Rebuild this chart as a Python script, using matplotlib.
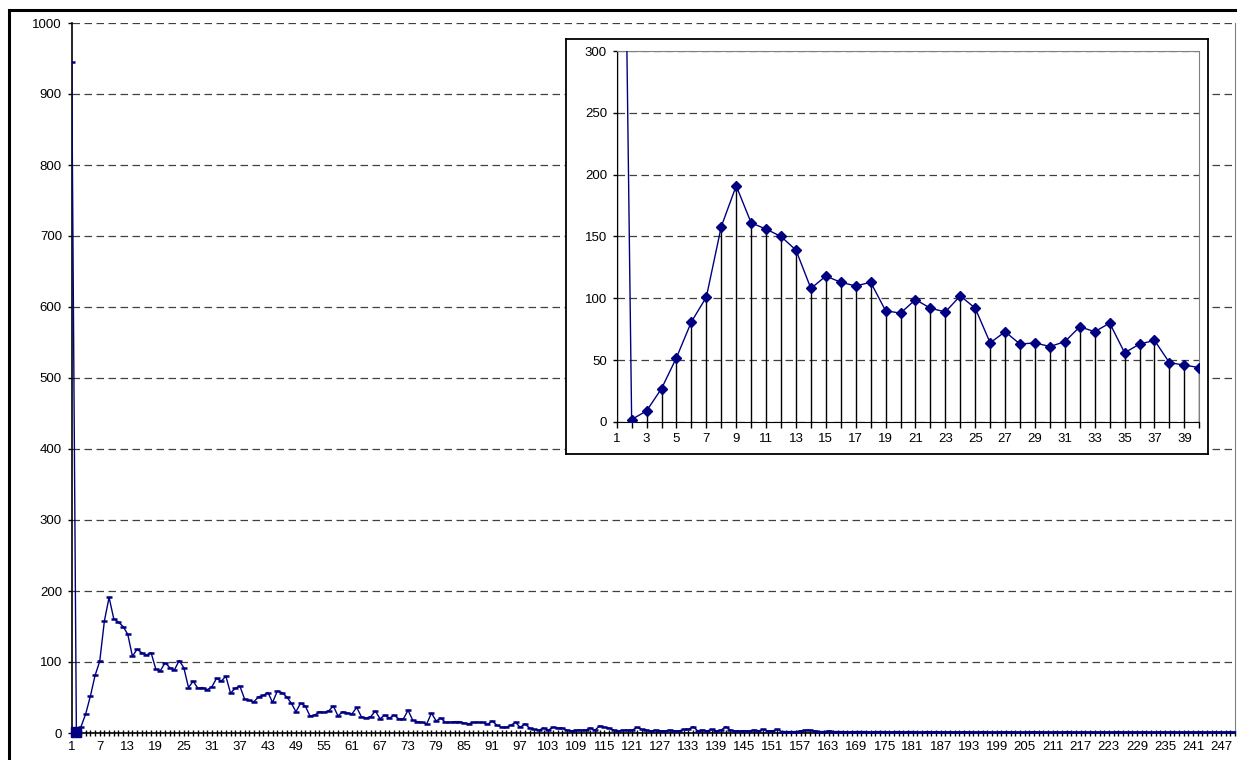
import matplotlib.pyplot as plt
from matplotlib.patches import Rectangle

plt.rcParams['font.family'] = ['Liberation Sans', 'DejaVu Sans']

# categories 1..250 and the counts
days = list(range(1, 251))
counts = [945, 2, 9, 27, 52, 81, 101, 158, 191, 161,
          156, 150, 139, 108, 118, 113, 110, 113, 90, 88,
          99, 92, 89, 102, 92, 64, 73, 63, 64, 61,
          65, 77, 73, 80, 56, 63, 66, 48, 46, 44,
          51, 53, 57, 43, 59, 57, 51, 42, 30, 42,
          38, 24, 25, 30, 29, 31, 38, 24, 30, 28,
          27, 36, 23, 21, 23, 31, 20, 25, 21, 25,
          20, 20, 32, 18, 16, 15, 13, 28, 17, 21,
          15, 15, 16, 16, 14, 13, 15, 15, 15, 12,
          17, 11, 8, 8, 11, 15, 8, 13, 7, 5,
          4, 7, 4, 8, 7, 7, 4, 3, 4, 4,
          4, 7, 4, 10, 8, 7, 4, 3, 4, 4,
          4, 8, 5, 4, 3, 4, 3, 3, 4, 3,
          3, 5, 5, 9, 3, 4, 3, 5, 3, 4,
          9, 4, 3, 3, 3, 3, 4, 3, 5, 3,
          3, 5, 2, 2, 2, 2, 3, 4, 4, 3,
          2, 2, 3, 2, 2, 2, 1, 2, 2, 2,
          2, 1, 2, 2, 2, 1, 2, 2, 1, 2,
          2, 1, 1, 2, 1, 2, 1, 1, 2, 1,
          1, 2, 1, 1, 1, 2, 1, 1, 1, 1,
          2, 1, 1, 1, 1, 1, 2, 1, 1, 1,
          1, 1, 1, 2, 1, 1, 1, 1, 1, 1,
          1, 1, 1, 1, 2, 1, 1, 1, 1, 1,
          1, 1, 1, 1, 1, 1, 1, 1, 1, 1,
          1, 1, 1, 1, 1, 1, 1, 1, 1, 1]

main_yticks = [0, 100, 200, 300, 400, 500, 600, 700, 800, 900, 1000]
main_xlabels = days[::6]

inset_days = days[:40]
inset_counts = counts[:40]
inset_yticks = [0, 50, 100, 150, 200, 250, 300]
inset_xlabels = inset_days[::2]

navy = '#000080'
gridc = '#404040'
W, H = 1237, 760


def box(x0, y0, x1, y1):
    # pixel box (from top-left) -> figure fractions
    return [x0 / W, 1 - y1 / H, (x1 - x0) / W, (y1 - y0) / H]


fig = plt.figure(figsize=(W / 100, H / 100), dpi=100)

# chart area border (runs off the right/bottom of the picture)
fig.add_artist(Rectangle((9 / W, -0.1), 1.2, 1.1 - 10 / H, transform=fig.transFigure,
                         fill=False, lw=2.2, ec='black', zorder=10))

# ---- main chart
ax = fig.add_axes(box(71.7, 23, 1235, 733))
ax.plot(days, counts, color=navy, lw=1, marker='_', ms=4.5, mew=1.8, zorder=3)
ax.plot([days[1]], [counts[1]], marker='s', ms=7.5, color=navy, ls='none',
        clip_on=False, zorder=4)
ax.set_xlim(1, 250)
ax.set_ylim(0, 1000)
ax.set_yticks(main_yticks)
ax.set_xticks(days, minor=True)
ax.set_xticks(main_xlabels)
ax.set_xticklabels([str(d) for d in main_xlabels])
ax.tick_params(axis='x', which='both', direction='inout', length=5, width=1,
               labelsize=9.5, pad=3)
ax.tick_params(axis='y', direction='out', length=3, width=1, labelsize=9.5, pad=4)
ax.yaxis.grid(True, ls=(0, (6, 3.6)), color=gridc, lw=0.9)
ax.set_axisbelow(True)
ax.spines['top'].set_visible(False)
ax.spines['right'].set_color('#808080')
ax.spines['left'].set_linewidth(1.2)
ax.spines['bottom'].set_linewidth(1.2)

# ---- inset box
bg = fig.add_axes(box(566, 39, 1207.7, 454))
bg.set_xticks([])
bg.set_yticks([])
for s in bg.spines.values():
    s.set_linewidth(1.3)
bg.set_zorder(2)

ins = fig.add_axes(box(616.7, 51, 1199.3, 422))
ins.set_zorder(3)
ins.vlines(inset_days, 0, inset_counts, colors='black', lw=1, zorder=2)
ins.plot(inset_days, inset_counts, color=navy, lw=1, marker='D', ms=5, zorder=3)
ins.set_xlim(1, 40)
ins.set_ylim(0, 300)
ins.set_yticks(inset_yticks)
ins.set_xticks(inset_days, minor=True)
ins.set_xticks(inset_xlabels)
ins.set_xticklabels([str(d) for d in inset_xlabels])
ins.tick_params(axis='x', which='both', direction='out', length=4, width=1,
                labelsize=9.5, pad=4)
ins.tick_params(axis='y', direction='out', length=3, width=1, labelsize=9.5, pad=4)
ins.yaxis.grid(True, ls=(0, (6, 3.6)), color=gridc, lw=0.9)
ins.set_axisbelow(True)
ins.spines['top'].set_color('#808080')
ins.spines['right'].set_color('#808080')

fig.savefig('out.png', dpi=100)
